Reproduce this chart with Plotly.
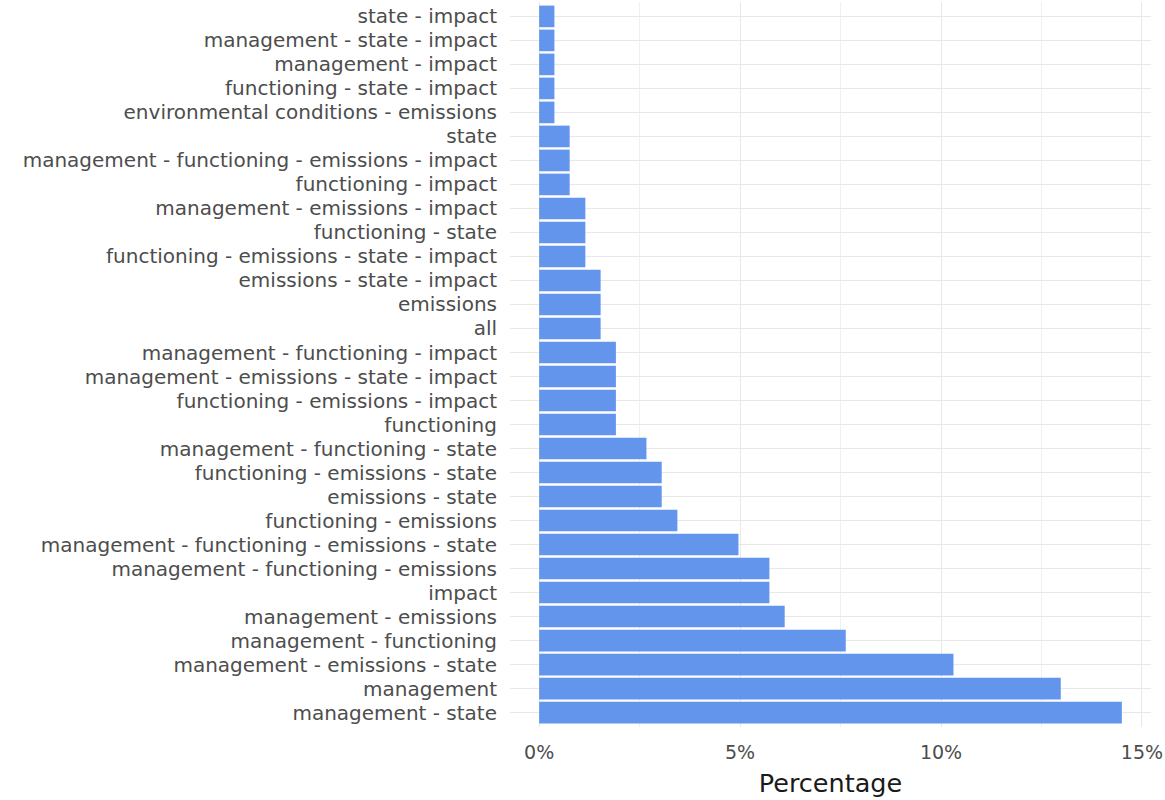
import plotly.graph_objects as go

# Categories listed from top to bottom as in the reference
categories = [
    "state - impact",
    "management - state - impact",
    "management - impact",
    "functioning - state - impact",
    "environmental conditions - emissions",
    "state",
    "management - functioning - emissions - impact",
    "functioning - impact",
    "management - emissions - impact",
    "functioning - state",
    "functioning - emissions - state - impact",
    "emissions - state - impact",
    "emissions",
    "all",
    "management - functioning - impact",
    "management - emissions - state - impact",
    "functioning - emissions - impact",
    "functioning",
    "management - functioning - state",
    "functioning - emissions - state",
    "emissions - state",
    "functioning - emissions",
    "management - functioning - emissions - state",
    "management - functioning - emissions",
    "impact",
    "management - emissions",
    "management - functioning",
    "management - emissions - state",
    "management",
    "management - state",
]

percentages = [
    0.38, 0.38, 0.38, 0.38, 0.38,
    0.76, 0.76, 0.76,
    1.15, 1.15, 1.15,
    1.53, 1.53, 1.53,
    1.91, 1.91, 1.91, 1.91,
    2.67,
    3.05, 3.05,
    3.44,
    4.96,
    5.73, 5.73,
    6.11,
    7.63,
    10.31,
    12.98,
    14.50,
]

x_tick_values = [0, 5, 10, 15]
x_tick_labels = ["0%", "5%", "10%", "15%"]

n = len(categories)
xmax = max(percentages)

fig = go.Figure(
    go.Bar(
        x=percentages,
        y=categories,
        orientation="h",
        marker=dict(color="#6495ED", line=dict(width=0)),
        hoverinfo="x+y",
    )
)

grid = "#E8E8E8"
fig.update_layout(
    width=1165,
    height=800,
    paper_bgcolor="white",
    plot_bgcolor="white",
    bargap=0.1,
    showlegend=False,
    margin=dict(l=510, r=14, t=2, b=73, autoexpand=False),
    font=dict(family="DejaVu Sans", color="#4D4D4D"),
    xaxis=dict(
        range=[-0.05 * xmax, 1.05 * xmax],
        tickvals=x_tick_values,
        ticktext=x_tick_labels,
        tickfont=dict(size=19, color="#4D4D4D"),
        showgrid=True,
        gridcolor=grid,
        gridwidth=1.3,
        minor=dict(dtick=2.5, tick0=0, showgrid=True, gridcolor="#F0F0F0", gridwidth=1),
        zeroline=False,
        showline=False,
        ticks="outside",
        ticklen=8,
        tickcolor="rgba(0,0,0,0)",
        title=dict(text="Percentage", font=dict(size=25.5, color="#1A1A1A"), standoff=12),
        automargin=False,
    ),
    yaxis=dict(
        type="category",
        categoryorder="array",
        categoryarray=categories,
        tickmode="array",
        tickvals=categories,
        ticktext=categories,
        range=[n - 1 + 0.6, -0.6],
        tickfont=dict(size=20, color="#4D4D4D"),
        showgrid=True,
        gridcolor=grid,
        gridwidth=1.3,
        zeroline=False,
        showline=False,
        ticks="outside",
        ticklen=8,
        tickcolor="rgba(0,0,0,0)",
        automargin=False,
    ),
)

fig.write_html(
    "out.html",
    config={"displayModeBar": False},
    post_script="document.body.style.margin='0';document.body.style.overflow='hidden';",
)
